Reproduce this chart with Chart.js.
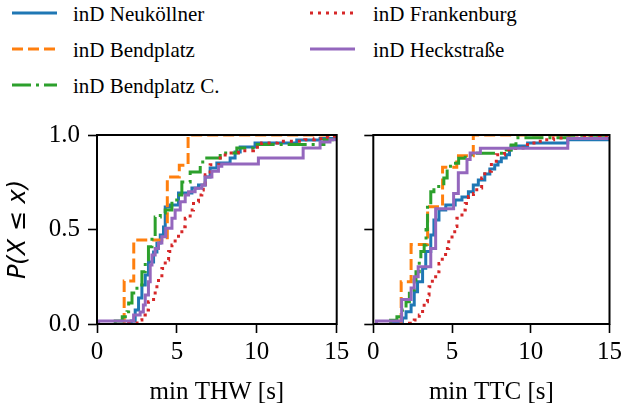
<!DOCTYPE html>
<html>
<head>
<meta charset="utf-8">
<script src="https://cdn.jsdelivr.net/npm/chart.js@4/dist/chart.umd.min.js"></script>
<style>
	body { margin: 0; background: #fff; }
	#wrap { position: relative; width: 626px; height: 407px; overflow: hidden; }
	canvas { position: absolute; }
	.key { position: absolute; font-family: 'Liberation Serif', serif; font-size: 21px; line-height: 21px; white-space: nowrap; color: #000; }
	.swatch { position: absolute; }
</style>
</head>
<body>
<div id="wrap">
	<canvas id="thw" style="left:0px;top:110px;width:358px;height:297px" width="358" height="297"></canvas>
	<canvas id="ttc" style="left:358px;top:110px;width:268px;height:297px" width="268" height="297"></canvas>
	<div id="legend"></div>
</div>
<script>
/*jshint esversion: 6 */

// datasets, in plot order
const seriesNames = [ 'inD Neuköllner', 'inD Bendplatz', 'inD Bendplatz C.', 'inD Frankenburg', 'inD Heckstraße' ];
const seriesColors = [ '#1f77b4', '#ff7f0e', '#2ca02c', '#d62728', '#9467bd' ];
const seriesDash = [ [], [ 11, 5 ], [ 19, 5, 3, 5 ], [ 3, 5 ], [] ];

const xTicks = [ 0, 5, 10, 15 ];
const yTicks = [ 0.0, 0.5, 1.0 ];

// min THW: empirical CDF, jump positions (s) and level after each jump
const thwNeukoellnerX = [ 2.14, 2.39, 2.6, 2.81, 3.02, 3.22, 3.54, 3.75, 3.96, 4.16, 4.27, 4.58, 5.1, 5.94, 6.35, 6.77, 7.08, 7.5, 8.33, 8.64, 8.96, 9.89, 12.5, 13.96 ];
const thwNeukoellnerY = [ 0.016, 0.074, 0.138, 0.206, 0.259, 0.328, 0.381, 0.429, 0.471, 0.513, 0.619, 0.63, 0.693, 0.72, 0.735, 0.778, 0.825, 0.852, 0.878, 0.91, 0.937, 0.958, 0.974, 0.981 ];
const thwBendplatzX = [ 1.7, 2.3, 4.4, 5.15, 5.7 ];
const thwBendplatzY = [ 0.227, 0.444, 0.778, 0.84, 1.0 ];
const thwBendplatzCX = [ 1.14, 1.58, 1.88, 1.98, 2.19, 2.5, 2.81, 3.02, 3.22, 3.44, 3.64, 3.96, 4.27, 4.69, 5.0, 5.31, 5.83, 6.46, 6.77, 7.71, 8.75, 9.77, 14.2 ];
const thwBendplatzCY = [ 0.016, 0.039, 0.065, 0.111, 0.164, 0.206, 0.277, 0.33, 0.409, 0.462, 0.566, 0.587, 0.603, 0.656, 0.683, 0.751, 0.804, 0.857, 0.878, 0.905, 0.931, 0.95, 0.975 ];
const thwFrankenburgX = [ 1.98, 2.6, 2.81, 3.02, 3.22, 3.54, 3.64, 3.85, 4.06, 4.27, 4.48, 4.69, 4.89, 5.1, 5.31, 5.52, 5.83, 6.04, 6.35, 6.56, 6.65, 6.77, 7.08, 7.71, 8.02, 8.85, 9.79, 10.3, 11.3, 13.0, 13.6, 14.2, 14.7 ];
const thwFrankenburgY = [ 0.005, 0.021, 0.048, 0.074, 0.118, 0.153, 0.197, 0.241, 0.294, 0.339, 0.383, 0.418, 0.453, 0.488, 0.515, 0.559, 0.603, 0.647, 0.683, 0.709, 0.74, 0.79, 0.843, 0.878, 0.905, 0.917, 0.935, 0.958, 0.967, 0.975, 0.98, 0.988, 0.993 ];
const thwHeckstrasseX = [ 0.1, 2.29, 2.7, 2.9, 3.02, 3.22, 3.33, 3.44, 3.64, 3.85, 4.06, 4.3, 4.69, 4.89, 5.21, 5.52, 5.73, 6.14, 6.56, 6.77, 7.19, 7.6, 7.81, 10.1, 12.9, 13.96, 14.58 ];
const thwHeckstrasseY = [ 0.016, 0.048, 0.063, 0.101, 0.153, 0.224, 0.312, 0.365, 0.4, 0.429, 0.462, 0.506, 0.559, 0.603, 0.647, 0.683, 0.7, 0.718, 0.735, 0.778, 0.808, 0.834, 0.847, 0.878, 0.931, 0.963, 0.975 ];

// min TTC
const ttcNeukoellnerX = [ 1.15, 1.85, 2.08, 2.4, 2.6, 2.81, 3.13, 3.33, 3.65, 3.85, 4.17, 4.6, 5.2, 5.63, 6.04, 6.35, 6.67, 7.08, 7.4, 7.71, 7.92, 8.13, 8.44, 8.65, 8.75, 9.8, 12.35 ];
const ttcNeukoellnerY = [ 0.012, 0.032, 0.065, 0.1, 0.171, 0.224, 0.295, 0.383, 0.471, 0.55, 0.603, 0.63, 0.656, 0.672, 0.7, 0.735, 0.762, 0.794, 0.82, 0.841, 0.859, 0.878, 0.896, 0.92, 0.942, 0.958, 0.975 ];
const ttcBendplatzX = [ 1.77, 2.4, 3.45, 4.4, 5.3, 6.35 ];
const ttcBendplatzY = [ 0.224, 0.42, 0.62, 0.83, 0.89, 1.0 ];
const ttcBendplatzCX = [ 1.1, 1.5, 1.85, 2.08, 2.29, 2.6, 2.71, 2.92, 3.02, 3.23, 3.35, 3.44, 3.65, 3.85, 4.48, 4.69, 4.9, 5.42, 5.84, 6.36, 8.34, 8.75, 9.06 ];
const ttcBendplatzCY = [ 0.02, 0.039, 0.074, 0.118, 0.171, 0.233, 0.277, 0.33, 0.383, 0.418, 0.5, 0.63, 0.7, 0.727, 0.772, 0.824, 0.85, 0.877, 0.894, 0.903, 0.92, 0.947, 0.985 ];
const ttcFrankenburgX = [ 2.3, 2.6, 2.92, 3.13, 3.23, 3.44, 3.54, 3.75, 3.96, 4.17, 4.38, 4.59, 4.79, 5.0, 5.17, 5.31, 5.63, 5.84, 6.04, 6.36, 6.57, 6.88, 7.08, 7.5, 7.81, 8.33, 8.75, 9.38, 9.79, 10.3, 10.73, 11.45, 13.1, 13.75, 14.4 ];
const ttcFrankenburgY = [ 0.004, 0.021, 0.048, 0.091, 0.118, 0.153, 0.197, 0.241, 0.276, 0.32, 0.355, 0.4, 0.444, 0.488, 0.516, 0.56, 0.603, 0.638, 0.674, 0.691, 0.72, 0.772, 0.808, 0.861, 0.896, 0.922, 0.928, 0.931, 0.958, 0.967, 0.975, 0.984, 0.987, 0.993, 0.998 ];
const ttcHeckstrasseX = [ 0.2, 1.8, 2.4, 2.6, 2.85, 3.65, 3.96, 5.1, 5.4, 5.95, 6.15, 6.8, 12.35 ];
const ttcHeckstrasseY = [ 0.016, 0.13, 0.19, 0.25, 0.303, 0.4, 0.61, 0.69, 0.8, 0.87, 0.905, 0.93, 0.982 ];

const thwSeries = [
	[ thwNeukoellnerX, thwNeukoellnerY ],
	[ thwBendplatzX, thwBendplatzY ],
	[ thwBendplatzCX, thwBendplatzCY ],
	[ thwFrankenburgX, thwFrankenburgY ],
	[ thwHeckstrasseX, thwHeckstrasseY ],
];
const ttcSeries = [
	[ ttcNeukoellnerX, ttcNeukoellnerY ],
	[ ttcBendplatzX, ttcBendplatzY ],
	[ ttcBendplatzCX, ttcBendplatzCY ],
	[ ttcFrankenburgX, ttcFrankenburgY ],
	[ ttcHeckstrasseX, ttcHeckstrasseY ],
];

const xMax = xTicks[ xTicks.length - 1 ];
const LW = 3;

Chart.defaults.font.family = "'Liberation Serif', 'Times New Roman', serif";
Chart.defaults.font.size = 25;
Chart.defaults.color = '#000';
Chart.defaults.animation = false;

// step points: start from 0 at first jump, hold last level to the right edge
const ecdfPoints = ( xs, ys ) => {
	const pts = [ { x: xs[0], y: 0 } ];
	xs.forEach( ( x, i ) => pts.push( { x: x, y: ys[i] } ) );
	pts.push( { x: xMax, y: ys[ ys.length - 1 ] } );
	return pts;
};

const boxPlugin = {
	id: 'box',
	afterDatasetsDraw: ( chart ) => {
		const ctx = chart.ctx;
		const a = chart.chartArea;
		ctx.save();
		ctx.strokeStyle = '#000';
		ctx.lineWidth = 2;
		ctx.strokeRect( a.left, a.top, a.right - a.left, a.bottom - a.top );
		ctx.restore();
	}
};

const makeChart = ( id, series, xTitle, yWidth, padRight, showY ) => {
	const datasets = series.map( ( s, i ) => ( {
		label: seriesNames[i],
		data: ecdfPoints( s[0], s[1] ),
		borderColor: seriesColors[i],
		borderWidth: LW,
		borderDash: seriesDash[i],
		borderCapStyle: 'butt',
		stepped: 'before',
		pointRadius: 0,
		fill: false,
		order: series.length - i,
	} ) );
	return new Chart( document.getElementById( id ), {
		type: 'line',
		data: { datasets: datasets },
		plugins: [ boxPlugin ],
		options: {
			responsive: false,
			layout: { padding: { left: 0, top: 25, right: padRight, bottom: 0 } },
			plugins: { legend: { display: false }, tooltip: { enabled: false } },
			scales: {
				x: {
					type: 'linear',
					min: 0,
					max: xMax,
					afterBuildTicks: ( s ) => { s.ticks = xTicks.map( v => ( { value: v } ) ); },
					ticks: { padding: 4, maxRotation: 0, callback: ( v ) => String( v ) },
					grid: { drawOnChartArea: false, drawTicks: true, tickLength: 9, tickWidth: 1.6, tickColor: '#000' },
					border: { display: false },
					title: { display: true, text: xTitle, padding: { top: 2, bottom: 0 } },
					afterFit: ( s ) => { s.height = 83; },
				},
				y: {
					type: 'linear',
					min: 0,
					max: 1,
					afterBuildTicks: ( s ) => { s.ticks = yTicks.map( v => ( { value: v } ) ); },
					ticks: { padding: 8, callback: ( v ) => showY ? v.toFixed( 1 ) : '' },
					grid: { drawOnChartArea: false, drawTicks: true, tickLength: 9, tickWidth: 1.6, tickColor: '#000' },
					border: { display: false },
					title: {
						display: showY,
						text: 'P(X ≤ x)',
						font: { family: "'DejaVu Sans', sans-serif", style: 'italic', size: 24 },
						padding: { top: 4, bottom: 0 },
					},
					afterFit: ( s ) => { s.width = yWidth; },
				},
			},
		},
	} );
};

makeChart( 'thw', thwSeries, 'min THW [s]', 97, 21.3, true );
makeChart( 'ttc', ttcSeries, 'min TTC [s]', 15.3, 13.7, false );

// legend: matplotlib style, two columns filled top to bottom
const legendCols = [ { handle: 12, text: 73 }, { handle: 310, text: 373 } ];
const legendRows = [ 21.7, 57.6, 93.5 ];
const legendEl = document.getElementById( 'legend' );
seriesNames.forEach( ( name, i ) => {
	const col = legendCols[ Math.floor( i / 3 ) ];
	const base = legendRows[ i % 3 ];
	const svg = document.createElementNS( 'http://www.w3.org/2000/svg', 'svg' );
	svg.setAttribute( 'class', 'swatch' );
	svg.setAttribute( 'width', 45 );
	svg.setAttribute( 'height', 10 );
	svg.style.left = col.handle + 'px';
	svg.style.top = ( base - 9 - 5 ) + 'px';
	const line = document.createElementNS( 'http://www.w3.org/2000/svg', 'line' );
	line.setAttribute( 'x1', 0 );
	line.setAttribute( 'x2', 45 );
	line.setAttribute( 'y1', 5 );
	line.setAttribute( 'y2', 5 );
	line.setAttribute( 'stroke', seriesColors[i] );
	line.setAttribute( 'stroke-width', LW );
	if ( seriesDash[i].length ) {
		line.setAttribute( 'stroke-dasharray', seriesDash[i].join( ' ' ) );
	}
	svg.appendChild( line );
	legendEl.appendChild( svg );
	const label = document.createElement( 'div' );
	label.className = 'key';
	label.textContent = name;
	label.style.left = col.text + 'px';
	label.style.top = ( base - 17.6 ) + 'px';
	legendEl.appendChild( label );
} );
</script>
</body>
</html>
